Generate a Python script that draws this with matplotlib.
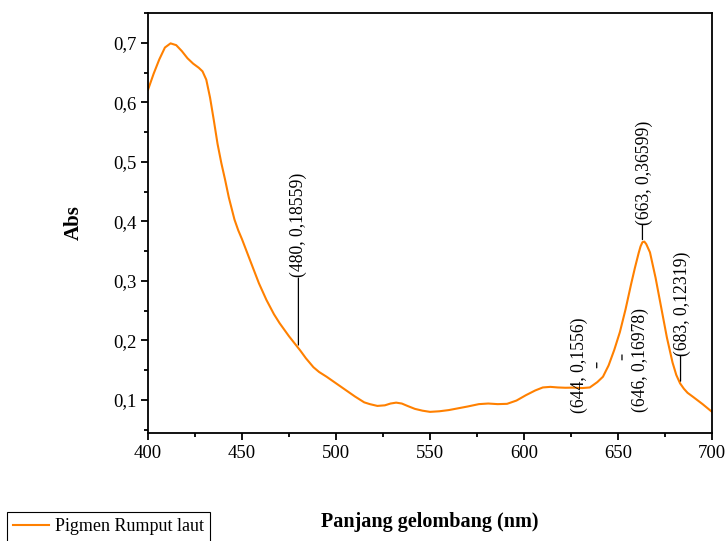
import numpy as np
import matplotlib
matplotlib.use("Agg")
import matplotlib.pyplot as plt
from matplotlib.ticker import MultipleLocator, FuncFormatter
from matplotlib.transforms import offset_copy

plt.rcParams['font.family'] = ['Liberation Serif', 'DejaVu Serif']

# spectrum
wavelength = [400, 403, 406, 409, 412, 415, 418, 421, 424, 427, 429, 431, 433,
              435, 437, 439, 441, 443, 446, 448, 450, 454, 459, 463, 467, 470,
              475, 478, 481, 484, 488, 491, 495, 500, 505, 510, 515, 518, 522,
              526, 529, 532, 535, 538, 542, 546, 550, 555, 560, 565, 570, 576,
              581, 586, 591, 596, 601, 606, 610, 614, 618, 622, 626, 631, 635,
              639, 642, 645, 648, 651, 654, 657, 659, 661, 662, 663, 664, 665,
              667, 670, 673, 676, 679, 681, 683, 685, 687, 690, 695, 700]
absorb = [0.621, 0.648, 0.672, 0.692, 0.699, 0.696, 0.686, 0.674, 0.665, 0.658,
          0.652, 0.638, 0.608, 0.570, 0.530, 0.498, 0.470, 0.440, 0.403, 0.385,
          0.370, 0.337, 0.296, 0.268, 0.244, 0.229, 0.207, 0.195, 0.183,
          0.170, 0.155, 0.147, 0.139, 0.128, 0.117, 0.106, 0.096, 0.093,
          0.090, 0.091, 0.094, 0.0955, 0.094, 0.090, 0.085, 0.082, 0.080,
          0.081, 0.083, 0.086, 0.089, 0.093, 0.094, 0.093, 0.0935, 0.099,
          0.108, 0.116, 0.121, 0.122, 0.121, 0.1205, 0.1207, 0.120, 0.121,
          0.130, 0.139, 0.158, 0.184, 0.214, 0.252, 0.295, 0.322, 0.347,
          0.358, 0.365, 0.366, 0.362, 0.348, 0.305, 0.255, 0.205, 0.163,
          0.142, 0.128, 0.119, 0.112, 0.105, 0.093, 0.080]

peak_wl = [480, 644, 646, 663, 683]
peak_abs = [0.18559, 0.1556, 0.16978, 0.36599, 0.12319]
peak_text = ['(480, 0,18559)', '(644, 0,1556)', '(646, 0,16978)',
             '(663, 0,36599)', '(683, 0,12319)']

# label placement in pixels relative to the point: line dx, y0, y1, text dx, dy, va
label_pos = [(0, 4, 71, 0, 72, 'bottom'),
             (-10, -1, 4, -27, 2, 'center'),
             (11.5, -1.5, 3.5, 29.5, -1.5, 'center'),
             (0, 2, 17, 2, 17, 'bottom'),
             (0.5, 5, 30, 2, 30, 'bottom')]

fig = plt.figure(figsize=(7.26, 5.41), dpi=100)
ax = fig.add_axes([148 / 726, 1 - 433 / 541, 564 / 726, 420 / 541])

line, = ax.plot(wavelength, absorb, color='#ff8000', lw=1.5, label='Pigmen Rumput laut')

for (wl, ab, txt, pos) in zip(peak_wl, peak_abs, peak_text, label_pos):
    ldx, y0, y1, tdx, tdy, va = pos
    tr = offset_copy(ax.transData, fig=fig, x=ldx, y=y0, units='dots')
    ax.annotate('', xy=(wl, ab), xycoords=tr, xytext=(0, y1 - y0),
                textcoords='offset pixels',
                arrowprops=dict(arrowstyle='-', color='black', lw=0.9,
                                shrinkA=0, shrinkB=0))
    ax.annotate(txt, xy=(wl, ab), xytext=(tdx, tdy), textcoords='offset pixels',
                rotation=90, ha='center', va=va, fontsize=12.7)

ax.set_xlim(400, 700)
ax.set_ylim(0.0445, 0.75)
ax.xaxis.set_major_locator(MultipleLocator(50))
ax.xaxis.set_minor_locator(MultipleLocator(25))
ax.yaxis.set_major_locator(MultipleLocator(0.1))
ax.yaxis.set_minor_locator(MultipleLocator(0.05))
ax.yaxis.set_major_formatter(FuncFormatter(lambda v, p: ('%.1f' % v).replace('.', ',')))
ax.tick_params(which='both', direction='out', width=1.3, labelsize=13.5)
ax.tick_params(which='major', length=5)
ax.tick_params(which='minor', length=3)
ax.tick_params(top=False, right=False)
for s in ax.spines.values():
    s.set_linewidth(1.3)

ax.set_xlabel('Panjang gelombang (nm)', fontsize=14.5, fontweight='bold', labelpad=36)
ax.set_ylabel('Abs', fontsize=15, fontweight='bold', labelpad=21)

leg = fig.legend(handles=[line], loc='upper left',
                 bbox_to_anchor=(7 / 726, 1 - 512 / 541),
                 fancybox=False, edgecolor='black', framealpha=1,
                 fontsize=13, handlelength=2.0, borderpad=0.35,
                 handletextpad=0.3, borderaxespad=0)
leg.get_frame().set_linewidth(0.8)

fig.savefig('out.png', dpi=100)
